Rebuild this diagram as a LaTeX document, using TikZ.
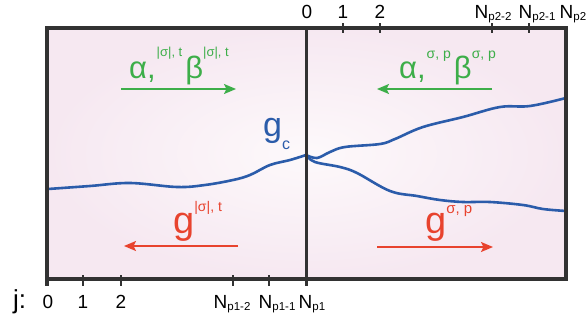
\documentclass[tikz,border=0pt]{standalone}
\usepackage{fontspec}
\setmainfont{Liberation Sans}
\usetikzlibrary{arrows.meta}
\definecolor{grn}{RGB}{61,174,73}
\definecolor{rd}{RGB}{232,67,46}
\definecolor{bl}{RGB}{43,92,170}
\definecolor{frm}{RGB}{50,50,50}
\definecolor{pinkin}{RGB}{253,249,251}
\definecolor{pinkout}{RGB}{246,232,241}
\newcommand{\fs}[1]{\fontsize{#1}{#1}\selectfont}
\begin{document}
\begin{tikzpicture}[x=1pt,y=-1pt,
  frame/.style={draw=frm,line width=4pt},
  midline/.style={draw=frm,line width=3pt},
  tickmark/.style={draw=frm,line width=2pt},
  ticklabel/.style={inner sep=0pt,anchor=base,font=\fs{19}},
  nlabel/.style={inner sep=0pt,anchor=base west,font=\fs{19}},
  flowarrow/.style={line width=2pt,-{Stealth[length=12pt,width=10pt,inset=2.5pt]}},
  bluecurve/.style={draw=bl,line width=2.6pt,line cap=round},
  biglabel/.style={inner sep=0pt,anchor=base west}]
\useasboundingbox (0,0) rectangle (587,322);
% corners
\coordinate (tl) at (47,28);
\coordinate (br) at (566,279);
\coordinate (mt) at (306,28);
\coordinate (mb) at (306,286);
\coordinate (lb) at (47,286);
\coordinate (lt) at (47,28);
\shade[inner color=pinkin,outer color=pinkout] (tl) rectangle (br);
% blue curves
\coordinate (gc) at (306,155);
\draw[bluecurve] plot[smooth,tension=0.6] coordinates {(48,189) (90,186) (130,183) (177,187) (205,185) (233,180) (250,175) (270,165) (290,160) (306,155)};
\draw[bluecurve] plot[smooth,tension=0.6] coordinates {(306,155) (317,158) (330,152) (345,147) (380,144) (395,139) (423,127) (463,117) (500,107) (530,106) (566,98)};
\draw[bluecurve] plot[smooth,tension=0.6] coordinates {(306,155) (315,162) (340,167) (357,173) (390,191) (417,196) (440,200) (463,202) (490,202) (523,205) (543,209) (566,211)};
% frame
\draw[frame] (tl) rectangle (br);
\draw[frame] (lt) -- (lb);
\draw[midline] (mt) -- (mb);
% top ticks
\foreach \n/\x in {t1/343,t2/380,t3/492,t4/529}{
  \coordinate (\n a) at (\x,23);
  \coordinate (\n b) at (\x,33);
  \draw[tickmark] (\n a) -- (\n b);
}
% bottom ticks
\foreach \n/\x in {b1/83,b2/121,b3/233,b4/269}{
  \coordinate (\n a) at (\x,275);
  \coordinate (\n b) at (\x,286);
  \draw[tickmark] (\n a) -- (\n b);
}
% top labels
\node[ticklabel] (l0t) at (307,18) {0};
\node[ticklabel] (l1t) at (343,18) {1};
\node[ticklabel] (l2t) at (380,18) {2};
\node[nlabel] (lnp22) at (474.5,18) {N\raisebox{-2pt}{\fs{11.5}p2-2}};
\node[nlabel] (lnp21) at (518.5,18) {N\raisebox{-2pt}{\fs{11.5}p2-1}};
\node[nlabel] (lnp2) at (559.5,18) {N\raisebox{-2pt}{\fs{11.5}p2}};
% bottom labels
\node[inner sep=0pt,anchor=base west,font=\fs{26}] (jl) at (13,308) {j:};
\node[ticklabel] (l0b) at (48,308) {0};
\node[ticklabel] (l1b) at (83,308) {1};
\node[ticklabel] (l2b) at (121,308) {2};
\node[nlabel] (lnp12) at (213.5,308) {N\raisebox{-2pt}{\fs{11.5}p1-2}};
\node[nlabel] (lnp11) at (258.5,308) {N\raisebox{-2pt}{\fs{11.5}p1-1}};
\node[nlabel] (lnp1) at (298.5,308) {N\raisebox{-2pt}{\fs{11.5}p1}};
% green labels and arrows
\node[biglabel,text=grn,font=\fs{31}] (abl) at (129,78)
  {α,\kern1pt\raisebox{22pt}{\fs{13}|σ|, t}\kern3pt β\raisebox{22pt}{\fs{13}|σ|, t}};
\node[biglabel,text=grn,font=\fs{31}] (abr) at (399,78)
  {α,\kern1pt\raisebox{20pt}{\fs{14}σ, p}\kern3pt β\raisebox{20pt}{\fs{14}σ, p}};
\coordinate (gl1) at (121,89);
\coordinate (gl2) at (236,89);
\coordinate (gr1) at (492,89);
\coordinate (gr2) at (377,89);
\draw[flowarrow,grn] (gl1) -- (gl2);
\draw[flowarrow,grn] (gr1) -- (gr2);
% g_c
\node[biglabel,text=bl,font=\fs{34}] (gcl) at (263,136) {g\raisebox{-13pt}{\fs{16}c}};
% red labels and arrows
\node[biglabel,text=rd,font=\fs{38}] (grl) at (173,233) {g\raisebox{22pt}{\fs{14}|σ|, t}};
\node[biglabel,text=rd,font=\fs{38}] (grr) at (425,233) {g\raisebox{20pt}{\fs{15}σ, p}};
\coordinate (rl1) at (238,246);
\coordinate (rl2) at (124,246);
\coordinate (rr1) at (377,247);
\coordinate (rr2) at (493,247);
\draw[flowarrow,rd] (rl1) -- (rl2);
\draw[flowarrow,rd] (rr1) -- (rr2);
\end{tikzpicture}
\end{document}
